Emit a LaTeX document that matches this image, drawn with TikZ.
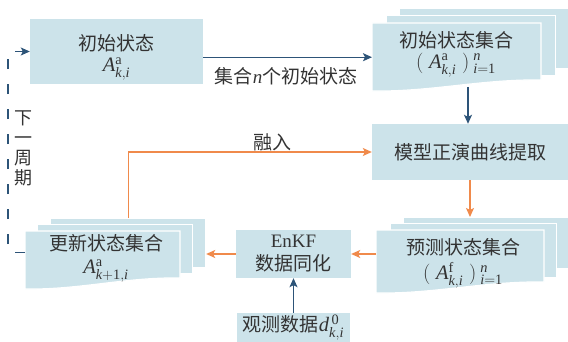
\RequirePackage{fix-cm}
\documentclass[tikz,border=0pt]{standalone}
\usepackage{amsmath}
\usepackage{fontspec}
\setmainfont{Liberation Serif}
\newfontfamily\libser{Liberation Serif}[NFSSFamily=libser]
\newfontfamily\cjk{Noto Sans CJK SC}
\DeclareSymbolFont{tletters}{TU}{libser}{m}{it}
\DeclareMathSymbol{A}{\mathalpha}{tletters}{`A}
\DeclareMathSymbol{k}{\mathalpha}{tletters}{`k}
\DeclareMathSymbol{i}{\mathalpha}{tletters}{`i}
\DeclareMathSymbol{n}{\mathalpha}{tletters}{`n}
\DeclareMathSymbol{d}{\mathalpha}{tletters}{`d}
\usetikzlibrary{arrows.meta}
\definecolor{boxblue}{HTML}{CCE3EA}
\definecolor{dblue}{HTML}{2D5478}
\definecolor{orng}{HTML}{F08A4B}
\definecolor{txtc}{HTML}{333333}
% front sheet with wavy bottom: L T R B
\newcommand\frontsheet[4]{%
  \path[fill=boxblue, draw=white, line width=1.2pt]
    (#1,#2) -- (#3,#2) -- (#3,{#4-11})
    .. controls ({#3-0.35*(#3-#1)},{#4-12}) and ({#1+0.35*(#3-#1)},{#4+1}) .. (#1,#4) -- cycle;}
\begin{document}
\begin{tikzpicture}[x=1pt,y=-1pt,
  font=\fontsize{19}{23}\selectfont, text=txtc,
  box/.style={fill=boxblue, inner sep=0pt, align=center},
  sheet/.style={fill=boxblue, draw=white, line width=1.2pt, inner sep=0pt, anchor=north west},
  ghost/.style={inner sep=0pt, anchor=north west},
  lbl/.style={inner sep=0pt},
  mth/.style={inner sep=0pt, font=\fontsize{20.5}{24}\selectfont},
  arr/.style={line width=1.2pt, -{Stealth[length=9pt,width=8pt,inset=2pt]}}]
\useasboundingbox (0,0) rectangle (568,342);

% initial state
\node[box, minimum width=173pt, minimum height=65pt] (b1) at (116.5,51.5) {};
\node[lbl] (b1t) at (116.5,43) {\cjk 初始状态};
\node[mth] (b1m) at (116.5,69) {$A^{\text{a}}_{k,i}$};

% initial state set (stack)
\node[sheet, minimum width=169pt, minimum height=60pt] (ini3) at (399,8) {};
\node[sheet, minimum width=169pt, minimum height=60pt] (ini2) at (386,15) {};
\frontsheet{372}{23}{541}{91}
\node[ghost, minimum width=169pt, minimum height=68pt] (ini) at (372,23) {};
\node[lbl] (init) at (456,40) {\cjk 初始状态集合};
\node[mth] (inim) at (456,65) {$(\;A^{\text{a}}_{k,i}\;)^{\;n}_{\;i=\text{1}}$};
\coordinate (iniw) at (468,87);

% model forward curve extraction
\node[box, minimum width=196pt, minimum height=56pt] (b3) at (470,152) {\cjk 模型正演曲线提取};

% predicted state set (stack)
\node[sheet, minimum width=165pt, minimum height=51pt] (pred3) at (403,217) {};
\node[sheet, minimum width=166pt, minimum height=54pt] (pred2) at (390,223) {};
\frontsheet{376}{230}{544}{293}
\node[ghost, minimum width=168pt, minimum height=58pt] (pred) at (376,230) {};
\node[lbl] (predt) at (463,247) {\cjk 预测状态集合};
\node[mth] (predm) at (463,275) {$(\;A^{\text{f}}_{k,i}\;)^{\;n}_{\;i=\text{1}}$};

% EnKF
\node[box, minimum width=115pt, minimum height=48pt] (enkf) at (293.5,254) {EnKF\\{\cjk 数据同化}};

% observation
\node[box, minimum width=113pt, minimum height=29pt] (obs) at (293.5,327.5) {{\cjk 观测数据}{\fontsize{20.5}{24}\selectfont$d^{\,\text{0}}_{k,i}$}};

% updated state set (stack)
\node[sheet, minimum width=155pt, minimum height=49pt] (upd3) at (50,218) {};
\node[sheet, minimum width=155pt, minimum height=49pt] (upd2) at (37,224) {};
\frontsheet{25}{231}{180}{289}
\node[ghost, minimum width=155pt, minimum height=53pt] (upd) at (25,231) {};
\node[lbl] (updt) at (106,243) {\cjk 更新状态集合};
\node[mth] (updm) at (106,271) {$A^{\text{a}}_{k+\text{1},i}$};

% connectors
\draw[arr, dblue] (b1.east |- ini.west) -- (ini.west);
\node[lbl] (lbl1) at (286,76) {\cjk 集合$n$个初始状态};
\draw[arr, dblue] (iniw) -- (iniw |- b3.north);
\draw[arr, orng] (b3.south) -- (b3.south |- pred3.north);
\draw[arr, orng] (pred.west |- enkf) -- (enkf.east);
\draw[arr, orng] (enkf.west) -- (enkf -| upd3.east);
\draw[arr, dblue] (obs.north) -- (enkf.south);
\draw[arr, orng] (upd3.north) |- (b3.west);
\node[lbl] (rongru) at (272,142) {\cjk 融入};
\draw[arr, dblue, dash pattern=on 10pt off 15pt] ([yshift=5.5pt]upd.west) -- ++(-17,0) |- (b1.west);
\node[align=center, lbl, font=\fontsize{18}{20}\selectfont] (cyc) at (23,148) {\cjk 下\\\cjk 一\\\cjk 周\\\cjk 期};
\end{tikzpicture}
\end{document}
